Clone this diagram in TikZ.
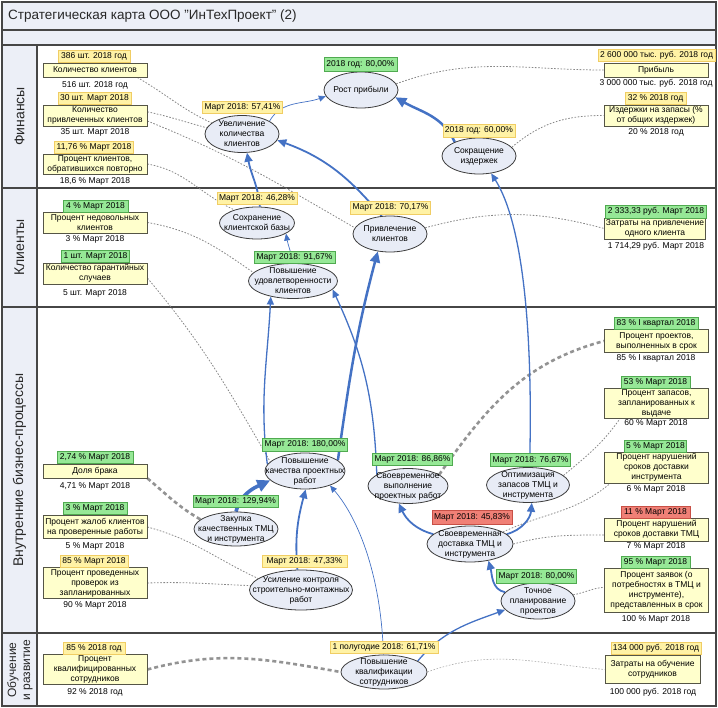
\documentclass[tikz,border=0pt]{standalone}
\usepackage{fontspec}
\setmainfont{Liberation Sans}
\usetikzlibrary{arrows.meta,shapes.geometric}
\definecolor{frameline}{RGB}{70,70,70}
\definecolor{barfill}{RGB}{236,239,247}
\definecolor{kpifill}{RGB}{255,255,204}
\definecolor{kpiline}{RGB}{85,85,70}
\definecolor{ellfill}{RGB}{232,236,246}
\definecolor{ellline}{RGB}{60,60,60}
\definecolor{ylwfill}{RGB}{255,242,165}
\definecolor{ylwline}{RGB}{240,205,100}
\definecolor{grnfill}{RGB}{150,232,150}
\definecolor{grnline}{RGB}{80,170,80}
\definecolor{redfill}{RGB}{240,128,118}
\definecolor{redline}{RGB}{200,80,70}
\definecolor{linkblue}{RGB}{68,114,196}
\definecolor{dotgray}{RGB}{135,135,135}
\definecolor{titletxt}{RGB}{40,40,40}
\newcommand\kfont{\fontsize{8.5}{10}\selectfont}
\pgfdeclarelayer{bg}
\pgfsetlayers{bg,main}
\begin{document}
\begin{tikzpicture}[x=1pt,y=-1pt,
 kpi/.style={draw=kpiline,fill=kpifill,line width=0.9pt,inner sep=0pt,minimum width=104,align=center,font=\kfont},
 kval/.style={inner sep=0pt,font=\kfont},
 ellnode/.style={ellipse,draw=ellline,fill=ellfill,line width=0.8pt,inner sep=0pt},
 elltxt/.style={align=center,font=\kfont,inner sep=0pt},
 kpitag/.style={draw,line width=0.8pt,inner xsep=2pt,inner ysep=0pt,font=\kfont,minimum height=12},
 ytag/.style={kpitag,fill=ylwfill,draw=ylwline},
 gtag/.style={kpitag,fill=grnfill,draw=grnline},
 rtag/.style={kpitag,fill=redfill,draw=redline},
 bluelink/.style={draw=linkblue},
 thinlink/.style={bluelink,line width=0.7pt,-{Triangle[length=7pt,width=6pt]}},
 medlink/.style={bluelink,line width=1.3pt,-{Triangle[length=8pt,width=7pt]}},
 midlink/.style={bluelink,line width=1.8pt,-{Triangle[length=9pt,width=8pt]}},
 thicklink/.style={bluelink,line width=2.5pt,-{Triangle[length=11pt,width=10pt]}},
 hugelink/.style={bluelink,line width=3.6pt,-{Triangle[length=13pt,width=12pt]}},
 kdot/.style={draw=dotgray,line width=0.8pt,dash pattern=on 1.6pt off 1.6pt},
 kdash/.style={draw=dotgray!90,line width=2.6pt,dash pattern=on 4pt off 3pt},
 lanetxt/.style={rotate=90,text=titletxt,inner sep=0pt,align=center},
]
\useasboundingbox (0,0) rectangle (718,708);

% ---------- nodes ----------
\node[anchor=west,font=\fontsize{13.5}{16}\selectfont,text=titletxt,inner sep=0pt] (title) at (8,16.5) {Стратегическая карта ООО \char34 ИнТехПроект\char34\ (2)};
\node[lanetxt,font=\fontsize{14}{15}\selectfont] (lane1) at (19.5,116.5) {Финансы};
\node[lanetxt,font=\fontsize{14}{15}\selectfont] (lane2) at (19.5,247.5) {Клиенты};
\node[lanetxt,font=\fontsize{14}{15}\selectfont] (lane3) at (19.5,470) {Внутренние бизнес-процессы};
\node[lanetxt,font=\fontsize{12}{14}\selectfont] (lane4) at (20,670) {Обучение\\и развитие};

% finance left
\node[kpi,minimum height=14] (k1) at (95,70) {Количество клиентов};
\node[ytag,minimum width=72] (k1t) at (94,56.5) {386 шт. 2018 год};
\node[kval] (k1v) at (95,85) {516 шт. 2018 год};
\node[kpi,minimum height=21] (k2) at (95,115.5) {Количество\\привлеченных клиентов};
\node[ytag,minimum width=73] (k2t) at (94.5,98.5) {30 шт. Март 2018};
\node[kval] (k2v) at (95,132.5) {35 шт. Март 2018};
\node[kpi,minimum height=20] (k3) at (95,164) {Процент клиентов,\\обратившихся повторно};
\node[ytag,minimum width=78] (k3t) at (94,147.5) {11,76 \% Март 2018};
\node[kval] (k3v) at (95,181) {18,6 \% Март 2018};
% finance right
\node[kpi,minimum height=14] (k4) at (656,70) {Прибыль};
\node[ytag,minimum width=117] (k4t) at (656.5,55.5) {2 600 000 тыс. руб. 2018 год};
\node[kval] (k4v) at (656,83) {3 000 000 тыс. руб. 2018 год};
\node[kpi,minimum height=21] (k5) at (656,115.5) {Издержки на запасы (\%\\от общих издержек)};
\node[ytag,minimum width=61] (k5t) at (655.5,98) {32 \% 2018 год};
\node[kval] (k5v) at (656,132) {20 \% 2018 год};
% finance ellipses
\node[ellnode,minimum width=74,minimum height=37] (e1) at (242,134) {};
\node[elltxt] (e1x) at (e1) {Увеличение\\количества\\клиентов};
\node[ytag,minimum width=79] (e1t) at (242.5,107.5) {Март 2018: 57,41\%};
\node[ellnode,minimum width=74,minimum height=36] (e2) at (361,90) {};
\node[elltxt] (e2x) at (e2) {Рост прибыли};
\node[gtag,minimum width=73,minimum height=14] (e2t) at (360.5,64) {2018 год: 80,00\%};
\node[ellnode,minimum width=74,minimum height=36] (e3) at (479,156) {};
\node[elltxt] (e3x) at (e3) {Сокращение\\издержек};
\node[ytag,minimum width=72,minimum height=13] (e3t) at (479,130.5) {2018 год: 60,00\%};

% clients
\node[kpi,minimum height=21] (k6) at (95,222.5) {Процент недовольных\\клиентов};
\node[gtag,minimum width=65] (k6t) at (95.5,206) {4 \% Март 2018};
\node[kval] (k6v) at (95,239.5) {3 \% Март 2018};
\node[kpi,minimum height=21] (k7) at (95,273.5) {Количество гарантийных\\случаев};
\node[gtag,minimum width=65] (k7t) at (95.5,256.5) {1 шт. Март 2018};
\node[kval] (k7v) at (95,293) {5 шт. Март 2018};
\node[kpi,minimum height=21,minimum width=101] (k8) at (655,228.5) {Затраты на привлечение\\одного клиента};
\node[gtag,minimum width=100,minimum height=13] (k8t) at (656,211.5) {2 333,33 руб. Март 2018};
\node[kval] (k8v) at (656,246) {1 714,29 руб. Март 2018};
\node[ellnode,minimum width=75,minimum height=32] (e4) at (257,223) {};
\node[elltxt] (e4x) at (e4) {Сохранение\\клиентской базы};
\node[ytag,minimum width=80] (e4t) at (257,198) {Март 2018: 46,28\%};
\node[ellnode,minimum width=89,minimum height=35] (e5) at (293,281) {};
\node[elltxt] (e5x) at (e5) {Повышение\\удовлетворенности\\клиентов};
\node[gtag,minimum width=81] (e5t) at (294.5,257) {Март 2018: 91,67\%};
\node[ellnode,minimum width=74,minimum height=36] (e6) at (390,234) {};
\node[elltxt] (e6x) at (e6) {Привлечение\\клиентов};
\node[ytag,minimum width=79,minimum height=13] (e6t) at (390.5,207.5) {Март 2018: 70,17\%};

% internal processes left
\node[kpi,minimum height=14] (k9) at (95,471) {Доля брака};
\node[gtag,minimum width=76] (k9t) at (95,457.5) {2,74 \% Март 2018};
\node[kval] (k9v) at (95,486) {4,71 \% Март 2018};
\node[kpi,minimum height=23] (k10) at (95,527) {Процент жалоб клиентов\\на проверенные работы};
\node[gtag,minimum width=64] (k10t) at (95,508.5) {3 \% Март 2018};
\node[kval] (k10v) at (95,546) {5 \% Март 2018};
\node[kpi,minimum height=31] (k11) at (95,583) {Процент проведенных\\проверок из\\запланированных};
\node[ytag,minimum width=68] (k11t) at (94,561.5) {85 \% Март 2018};
\node[kval] (k11v) at (95,605) {90 \% Март 2018};
% internal processes right
\node[kpi,minimum height=23] (k12) at (656.5,341) {Процент проектов,\\выполненных в срок};
\node[gtag,minimum width=84] (k12t) at (656,323.5) {83 \% I квартал 2018};
\node[kval] (k12v) at (656,358.5) {85 \% I квартал 2018};
\node[kpi,minimum height=30] (k13) at (656.5,403) {Процент запасов,\\запланированных к\\выдаче};
\node[gtag,minimum width=69] (k13t) at (655.5,382) {53 \% Март 2018};
\node[kval] (k13v) at (656,423.5) {60 \% Март 2018};
\node[kpi,minimum height=31] (k14) at (656.5,467.5) {Процент нарушений\\сроков доставки\\инструмента};
\node[gtag,minimum width=61] (k14t) at (655.5,446) {5 \% Март 2018};
\node[kval] (k14v) at (656,489) {6 \% Март 2018};
\node[kpi,minimum height=23] (k15) at (656.5,529.5) {Процент нарушений\\сроков доставки ТМЦ};
\node[rtag,minimum width=69] (k15t) at (655.5,512) {11 \% Март 2018};
\node[kval] (k15v) at (656,546.5) {7 \% Март 2018};
\node[kpi,minimum height=44] (k16) at (656.5,590) {Процент заявок (о\\потребностях в ТМЦ и\\инструменте),\\представленных в срок};
\node[gtag,minimum width=69] (k16t) at (655.5,562) {95 \% Март 2018};
\node[kval] (k16v) at (656,619.5) {100 \% Март 2018};
% internal ellipses
\node[ellnode,minimum width=80,minimum height=36] (e7) at (305,471) {};
\node[elltxt] (e7x) at (e7) {Повышение\\качества проектных\\работ};
\node[gtag,minimum width=84,minimum height=13] (e7t) at (305,444.5) {Март 2018: 180,00\%};
\node[ellnode,minimum width=80,minimum height=35] (e8) at (408,486) {};
\node[elltxt] (e8x) at (e8) {Своевременное\\выполнение\\проектных работ};
\node[gtag,minimum width=79] (e8t) at (412.5,459) {Март 2018: 86,86\%};
\node[ellnode,minimum width=83,minimum height=35] (e9) at (528,485) {};
\node[elltxt] (e9x) at (e9) {Оптимизация\\запасов ТМЦ и\\инструмента};
\node[gtag,minimum width=79,minimum height=13] (e9t) at (530.5,460) {Март 2018: 76,67\%};
\node[ellnode,minimum width=86,minimum height=36] (e10) at (470,544) {};
\node[elltxt] (e10x) at (e10) {Своевременная\\доставка ТМЦ и\\инструмента};
\node[rtag,minimum width=80,minimum height=14] (e10t) at (472,517) {Март 2018: 45,83\%};
\node[ellnode,minimum width=74,minimum height=36] (e11) at (538,601) {};
\node[elltxt] (e11x) at (e11) {Точное\\планирование\\проектов};
\node[gtag,minimum width=79,minimum height=14] (e11t) at (536.5,576) {Март 2018: 80,00\%};
\node[ellnode,minimum width=84,minimum height=34] (e12) at (236,529) {};
\node[elltxt] (e12x) at (e12) {Закупка\\качественных ТМЦ\\и инструмента};
\node[gtag,minimum width=85] (e12t) at (235.5,501) {Март 2018: 129,94\%};
\node[ellnode,minimum width=103,minimum height=40] (e13) at (301,590) {};
\node[elltxt] (e13x) at (e13) {Усиление контроля\\строительно-монтажных\\работ};
\node[ytag,minimum width=85] (e13t) at (304.5,561) {Март 2018: 47,33\%};

% learning
\node[kpi,minimum height=30] (k17) at (95,669.5) {Процент\\квалифицированных\\сотрудников};
\node[ytag,minimum width=62] (k17t) at (94,648.5) {85 \% 2018 год};
\node[kval] (k17v) at (95,692) {92 \% 2018 год};
\node[kpi,minimum width=95,minimum height=28] (k18) at (652.5,669.5) {Затраты на обучение\\сотрудников};
\node[ytag,minimum width=89] (k18t) at (656,648.5) {134 000 руб. 2018 год};
\node[kval] (k18v) at (653,692) {100 000 руб. 2018 год};
\node[ellnode,minimum width=86,minimum height=34] (e14) at (384,672) {};
\node[elltxt] (e14x) at (e14) {Повышение\\квалификации\\сотрудников};
\node[ytag,minimum width=108] (e14t) at (384,647) {1 полугодие 2018: 61,71\%};

% ---------- frame and connectors (background) ----------
\begin{pgfonlayer}{bg}
\fill[barfill] (2,2) rectangle (716,45);
\fill[barfill] (2,45) rectangle (37,706);
\draw[frameline,line width=1.1pt] (2,2) rectangle (716,706);
\draw[frameline,line width=1.1pt] (2,30) -- (716,30) (2,45) -- (716,45) (2,188) -- (716,188)
  (2,307) -- (716,307) (2,633) -- (716,633) (37,45) -- (37,706);

% KPI links
\draw[kdot] (k1.-10) to[out=-30,in=155] (e1.160);
\draw[kdot] (k2.4) to[out=-12,in=165] (e1.170);
\draw[kdot] (k2.-6) to[out=-22,in=150] (e6.170);
\draw[kdot] (k3.east) to[out=-10,in=155] (e4.150);
\draw[kdot] (k6.east) to[out=-10,in=145] (e5.168);
\draw[kdot] (k7.-5) to[out=-50,in=120] (e7.165);
\draw[kdash] (k9.-8) to[out=-40,in=150] (e12.165);
\draw[kdot] (k10.east) to[out=-15,in=155] (e13.165);
\draw[kdot] (k11.east) to[out=2,in=178] (e13.175);
\draw[kdot] (e2.10) to[out=20,in=180] (k4.west);
\draw[kdot] (e3.15) to[out=40,in=180] (k5.west);
\draw[kdot] (e6.10) to[out=15,in=165] (k8.west);
\draw[kdash] (e8.20) to[out=55,in=-165] (k12.west);
\draw[kdot] (e9.15) to[out=40,in=-125] (k13.-157);
\draw[kdot] (e10.20) to[out=25,in=-140] (k14.-161);
\draw[kdot] (e10.east) to[out=15,in=180] (k15.186);
\draw[kdot] (e11.10) to[out=10,in=185] (k16.177);
\draw[kdash] (k17.east) to[out=15,in=170] (e14.west);
\draw[kdot,draw=dotgray!70,line width=0.6pt] (e14.east) to[out=20,in=175] (k18.west);

% strategy links
\draw[thinlink] (e1.25) to[out=60,in=200] (e2.190);
\draw[thicklink] (e3.150) to[out=115,in=-30] (e2.-12);
\draw[midlink] (e4.80) to[out=95,in=-80] (e1.-75);
\draw[midlink] (e6.115) to[out=130,in=-20] (e1.-10);
\draw[thinlink] (e5.north) to[out=100,in=-80] (e4.-20);
\draw[medlink] (e7.170) to[out=97,in=-93] (e5.-145);
\draw[thicklink] (e7.18) to[out=82,in=-105] (e6.-125);
\draw[medlink] (e8.160) to[out=92,in=-65] (e5.-12);
\draw[medlink] (e9.85) .. controls +(3,-108) and +(36,57) .. (e3.-55);
\draw[hugelink] (e12.north) to[out=75,in=-155] (e7.-165);
\draw[midlink] (e13.100) to[out=95,in=-105] (e7.-88);
\draw[midlink] (e10.165) to[out=165,in=-65] (e8.-118);
\draw[midlink] (e10.15) to[out=15,in=-95] (e9.-78);
\draw[midlink] (e11.165) to[out=170,in=-75] (e10.-42);
\draw[medlink] (e14.18) to[out=50,in=-160] (e11.-165);
\draw[thinlink] (e14.92) .. controls +(-2,-75) and +(30,35) .. (e7.-30);
\end{pgfonlayer}
\end{tikzpicture}
\end{document}
